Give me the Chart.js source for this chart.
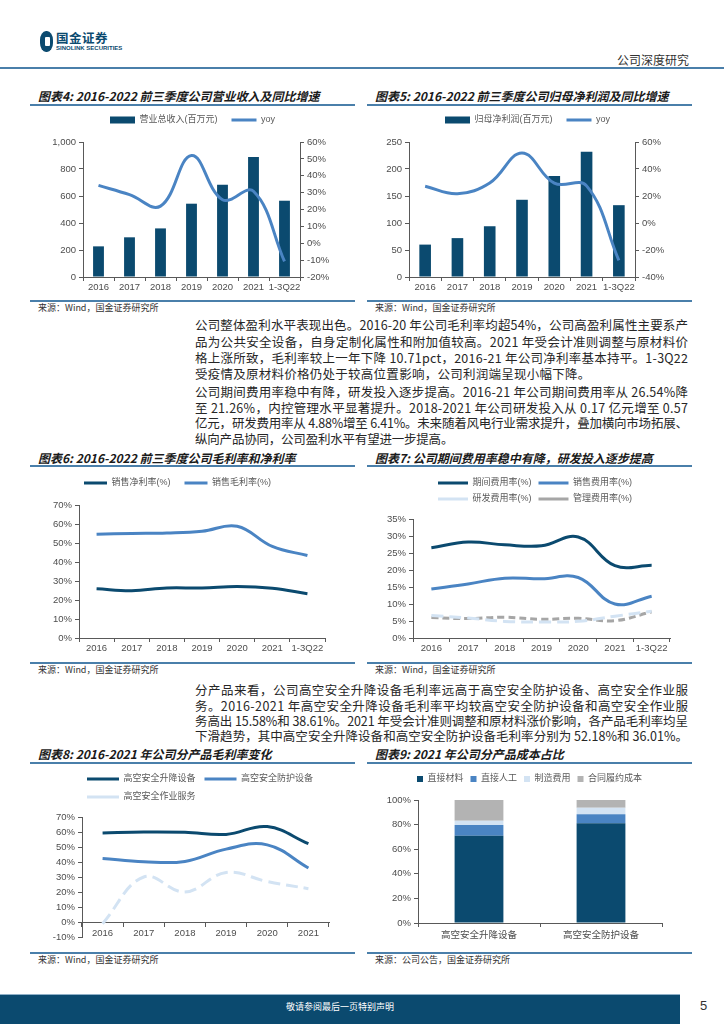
<!DOCTYPE html>
<html><head><meta charset="utf-8">
<script src="https://cdn.jsdelivr.net/npm/chart.js@4.4.1/dist/chart.umd.min.js"></script>
<style>
html,body{margin:0;padding:0;background:#fff;}
body{width:724px;height:1024px;position:relative;overflow:hidden;font-family:"Noto Sans CJK SC",sans-serif;}
.abs{position:absolute;white-space:nowrap;}
canvas{position:absolute;}
.title{position:absolute;font-style:italic;font-weight:bold;font-size:12px;color:#1a1a1a;white-space:nowrap;line-height:14px;}
.rule{position:absolute;height:1.5px;background:#4a7faa;}
.src{position:absolute;font-size:9px;color:#333;white-space:nowrap;line-height:11px;}
.ln{position:absolute;left:195px;font-size:12.5px;color:#262626;white-space:nowrap;line-height:16px;}
</style></head>
<body>
<!-- header -->
<div class="abs" style="left:40px;top:31px;width:13px;height:21px;background:#0b4a6f;border-radius:6px/9px;"></div>
<div class="abs" style="left:45px;top:37px;width:5px;height:9px;background:#fff;border-radius:1px;"></div>
<div class="abs" style="left:56px;top:30px;font-size:12.5px;font-weight:bold;color:#0b4a6f;line-height:15px;letter-spacing:0.5px;">国金证券</div>
<div class="abs" style="left:56px;top:45px;font-size:6px;font-weight:bold;color:#0b4a6f;line-height:7px;font-family:'Liberation Sans',sans-serif;">SINOLINK SECURITIES</div>
<div class="abs" style="left:617px;top:53px;font-size:12px;color:#333;line-height:14px;">公司深度研究</div>
<div class="abs" style="left:0;top:67px;width:724px;height:2px;background:#4a7faa;"></div>

<!-- chart titles -->
<div class="title" style="left:38px;top:89px;">图表4: 2016-2022 前三季度公司营业收入及同比增速</div>
<div class="rule" style="left:30px;top:104px;width:325px;"></div>
<div class="title" style="left:375px;top:89px;">图表5: 2016-2022 前三季度公司归母净利润及同比增速</div>
<div class="rule" style="left:367px;top:104px;width:325px;"></div>
<div class="rule" style="left:30px;top:300px;width:325px;"></div>
<div class="src" style="left:38px;top:302px;">来源：Wind，国金证券研究所</div>
<div class="rule" style="left:367px;top:300px;width:325px;"></div>
<div class="src" style="left:375px;top:302px;">来源：Wind，国金证券研究所</div>

<div class="para">
<div class="ln" style="top:317px;">公司整体盈利水平表现出色。2016-20 年公司毛利率均超54%，公司高盈利属性主要系产</div>
<div class="ln" style="top:333.5px;">品为公共安全设备，自身定制化属性和附加值较高。2021 年受会计准则调整与原材料价</div>
<div class="ln" style="top:349.5px;">格上涨所致，毛利率较上一年下降 10.71pct，2016-21 年公司净利率基本持平。1-3Q22</div>
<div class="ln" data-last="1" style="top:365.5px;">受疫情及原材料价格仍处于较高位置影响，公司利润端呈现小幅下降。</div>
</div>
<div class="para">
<div class="ln" style="top:383.5px;">公司期间费用率稳中有降，研发投入逐步提高。2016-21 年公司期间费用率从 26.54%降</div>
<div class="ln" style="top:399.5px;">至 21.26%，内控管理水平显著提升。2018-2021 年公司研发投入从 0.17 亿元增至 0.57</div>
<div class="ln" style="top:415px;">亿元，研发费用率从 4.88%增至 6.41%。未来随着风电行业需求提升，叠加横向市场拓展、</div>
<div class="ln" data-last="1" style="top:430.5px;">纵向产品协同，公司盈利水平有望进一步提高。</div>
</div>

<div class="title" style="left:38px;top:451px;">图表6: 2016-2022 前三季度公司毛利率和净利率</div>
<div class="rule" style="left:30px;top:465px;width:325px;"></div>
<div class="title" style="left:375px;top:451px;">图表7: 公司期间费用率稳中有降，研发投入逐步提高</div>
<div class="rule" style="left:367px;top:465px;width:325px;"></div>
<div class="rule" style="left:30px;top:662px;width:325px;"></div>
<div class="src" style="left:38px;top:664px;">来源：Wind，国金证券研究所</div>
<div class="rule" style="left:367px;top:662px;width:325px;"></div>
<div class="src" style="left:375px;top:664px;">来源：Wind，国金证券研究所</div>

<div class="para">
<div class="ln" style="top:682px;">分产品来看，公司高空安全升降设备毛利率远高于高空安全防护设备、高空安全作业服</div>
<div class="ln" style="top:697.5px;">务。2016-2021 年高空安全升降设备毛利率平均较高空安全防护设备和高空安全作业服</div>
<div class="ln" style="top:713px;">务高出 15.58%和 38.61%。2021 年受会计准则调整和原材料涨价影响，各产品毛利率均呈</div>
<div class="ln" style="top:728px;">下滑趋势，其中高空安全升降设备和高空安全防护设备毛利率分别为 52.18%和 36.01%。</div>
</div>

<div class="title" style="left:38px;top:747px;">图表8: 2016-2021 年公司分产品毛利率变化</div>
<div class="rule" style="left:30px;top:762px;width:325px;"></div>
<div class="title" style="left:375px;top:747px;">图表9: 2021 年公司分产品成本占比</div>
<div class="rule" style="left:367px;top:762px;width:325px;"></div>
<div class="rule" style="left:30px;top:952px;width:325px;"></div>
<div class="src" style="left:38px;top:954px;">来源：Wind，国金证券研究所</div>
<div class="rule" style="left:367px;top:952px;width:325px;"></div>
<div class="src" style="left:375px;top:954px;">来源：公司公告，国金证券研究所</div>

<canvas id="c4"></canvas><canvas id="c5"></canvas>
<canvas id="c6"></canvas><canvas id="c7"></canvas>
<canvas id="c8"></canvas><canvas id="c9"></canvas>

<!-- footer -->
<div class="abs" style="left:0;top:994px;width:680px;height:29px;background:#0b4a6f;border-top:1px solid #8fb0c8;"></div>
<div class="abs" style="left:0;top:1001px;width:680px;text-align:center;font-size:9px;color:#fff;line-height:12px;">敬请参阅最后一页特别声明</div>
<div class="abs" style="left:700px;top:998px;font-size:13px;color:#333;line-height:16px;font-family:'Liberation Sans',sans-serif;">5</div>

<script>
// ---------- data ----------
const years7 = ['2016','2017','2018','2019','2020','2021','1-3Q22'];
const years6 = ['2016','2017','2018','2019','2020','2021'];
const revenue = [227, 294, 360, 543, 684, 889, 565];
const revenueYoy = [34.3, 28.8, 22.0, 52.0, 25.8, 30.8, -10.8];
const netProfit = [60, 72, 94, 143, 187, 232, 133];
const netProfitYoy = [27.2, 21.7, 29.6, 51.8, 29.5, 27.5, -27.7];
const netMargin = [25.9, 24.9, 26.3, 26.3, 27.1, 26.2, 23.3];
const grossMargin = [54.6, 55.0, 55.3, 56.2, 58.8, 48.2, 43.4];
const periodExpRate = [26.54, 28.2, 27.4, 27.1, 29.7, 21.26, 21.4];
const salesExpRate = [14.4, 15.9, 17.6, 17.4, 17.8, 10.0, 12.3];
const rdExpRate = [6.6, 5.9, 4.88, 4.7, 4.9, 6.41, 7.9];
const adminExpRate = [6.0, 5.7, 6.1, 5.5, 5.8, 5.1, 7.7];
const liftMargin = [59.3, 60.0, 59.8, 58.4, 63.6, 52.18];
const protectMargin = [42.4, 40.2, 40.4, 48.6, 51.4, 36.01];
const serviceMargin = [-1.1, 30.0, 20.0, 33.0, 27.0, 22.2];
const costCats = ['高空安全升降设备','高空安全防护设备'];
const costMaterial = [71.0, 81.1];
const costLabor = [8.7, 7.3];
const costMfg = [3.5, 5.4];
const costContract = [16.8, 6.2];

// ---------- text justification ----------
function justify(){
  document.querySelectorAll('.para').forEach(p=>{
    let last=0;
    p.querySelectorAll('.ln').forEach(el=>{
      el.style.letterSpacing='0px';
      const n=[...el.textContent].length;
      const w=el.getBoundingClientRect().width;
      if(el.dataset.last){ el.style.letterSpacing=last+'px'; }
      else { const ls=(493-w)/(n-1); el.style.letterSpacing=ls+'px'; last=ls; }
    });
  });
}
justify();
if(document.fonts && document.fonts.ready) document.fonts.ready.then(justify);

// ---------- charts ----------
Chart.defaults.font.family = '"Liberation Sans", Arial, "Noto Sans CJK SC", sans-serif';
Chart.defaults.font.size = 9.5;
Chart.defaults.color = '#4d4d4d';
Chart.defaults.animation = false;
Chart.defaults.responsive = false;
Chart.defaults.devicePixelRatio = 1;
Chart.defaults.plugins.tooltip.enabled = false;

const NAVY='#0b4a6f', BLUE='#4a84c3', LIGHT='#d3e3f3', GRAY='#b3b3b3', DGRAY='#a6a6a6', AXIS='#595959';

function place(id,b){ const c=document.getElementById(id); c.width=b.w; c.height=b.h; c.style.left=b.x+'px'; c.style.top=b.y+'px'; return c; }

function legendPlugin(b,o){
  return { id:'legpos',
    beforeInit(chart){ const lg=chart.legend; const of=lg.fit; lg.fit=function(){ of.call(this); this.height=o.h; }; },
    beforeDraw(chart){
      const lg=chart.legend;
      lg.top=o.rowY-b.y-o.pad-o.itemH/2; lg.bottom=lg.top+o.h;
      if(o.left!=null){ lg.left=o.left-b.x-o.pad; lg.right=o.right-b.x; }
    }
  };
}
function axisGrid(offset){ return {display:true, drawOnChartArea:false, drawTicks:true, tickLength:4, color:AXIS, offset:offset}; }
const border={display:true, color:AXIS, width:1};
const pct=v=>v+'%';
function xTicks(pad, extra){ return Object.assign({padding:pad, maxRotation:0, minRotation:0, autoSkip:false}, extra||{}); }

// Chart 4
const b4={x:30,y:108,w:325,h:190};
new Chart(place('c4',b4),{
  type:'bar',
  data:{labels:years7, datasets:[
    {type:'bar', label:'营业总收入(百万元)', data:revenue, backgroundColor:NAVY, yAxisID:'y', order:1, barPercentage:0.35, categoryPercentage:1, pointStyle:'rect', borderWidth:0},
    {type:'line', label:'yoy', data:revenueYoy, borderColor:BLUE, backgroundColor:BLUE, borderWidth:3, pointRadius:0, tension:0.4, yAxisID:'y2', order:0, pointStyle:'line'}
  ]},
  options:{
    layout:{padding:0},
    plugins:{legend:{labels:{usePointStyle:true, pointStyleWidth:25, boxHeight:7, padding:14, font:{size:9}, color:'#595959', sort:(a,c)=>a.datasetIndex-c.datasetIndex}}},
    scales:{
      x:{grid:axisGrid(true), border, ticks:xTicks(1), afterFit:s=>{s.height=b4.y+b4.h-277;}},
      y:{position:'left', min:0, max:1000, ticks:{stepSize:100, padding:3, callback:v=>v.toLocaleString('en-US')}, grid:axisGrid(false), border, afterFit:s=>{s.width=83-b4.x;}},
      y2:{position:'right', min:-20, max:60, ticks:{stepSize:10, padding:3, callback:pct}, grid:axisGrid(false), border, afterFit:s=>{s.width=b4.x+b4.w-300;}}
    }
  },
  plugins:[legendPlugin(b4,{h:34,rowY:120,pad:14,itemH:9})]
});

// Chart 5
const b5={x:365,y:108,w:325,h:190};
new Chart(place('c5',b5),{
  type:'bar',
  data:{labels:years7, datasets:[
    {type:'bar', label:'归母净利润(百万元)', data:netProfit, backgroundColor:NAVY, yAxisID:'y', order:1, barPercentage:0.36, categoryPercentage:1, pointStyle:'rect', borderWidth:0},
    {type:'line', label:'yoy', data:netProfitYoy, borderColor:BLUE, backgroundColor:BLUE, borderWidth:3, pointRadius:0, tension:0.4, yAxisID:'y2', order:0, pointStyle:'line'}
  ]},
  options:{
    layout:{padding:0},
    plugins:{legend:{labels:{usePointStyle:true, pointStyleWidth:25, boxHeight:7, padding:14, font:{size:9}, color:'#595959', sort:(a,c)=>a.datasetIndex-c.datasetIndex}}},
    scales:{
      x:{grid:axisGrid(true), border, ticks:xTicks(1), afterFit:s=>{s.height=b5.y+b5.h-277;}},
      y:{position:'left', min:0, max:250, ticks:{stepSize:50, padding:3}, grid:axisGrid(false), border, afterFit:s=>{s.width=409-b5.x;}},
      y2:{position:'right', min:-40, max:60, ticks:{stepSize:10, padding:3, callback:pct}, grid:axisGrid(false), border, afterFit:s=>{s.width=b5.x+b5.w-635;}}
    }
  },
  plugins:[legendPlugin(b5,{h:34,rowY:120,pad:14,itemH:9})]
});

// Chart 6
const b6={x:30,y:470,w:325,h:190};
new Chart(place('c6',b6),{
  type:'line',
  data:{labels:years7, datasets:[
    {label:'销售净利率(%)', data:netMargin, borderColor:NAVY, backgroundColor:NAVY, borderWidth:3, pointRadius:0, tension:0.4, pointStyle:'line'},
    {label:'销售毛利率(%)', data:grossMargin, borderColor:BLUE, backgroundColor:BLUE, borderWidth:3, pointRadius:0, tension:0.4, pointStyle:'line'}
  ]},
  options:{
    layout:{padding:{right:b6.x+b6.w-325}},
    plugins:{legend:{labels:{usePointStyle:true, pointStyleWidth:23, padding:14, font:{size:9}, color:'#595959'}}},
    scales:{
      x:{offset:true, grid:axisGrid(true), border, ticks:xTicks(1), afterFit:s=>{s.height=b6.y+b6.h-638;}},
      y:{min:0, max:70, ticks:{stepSize:10, padding:3, callback:pct}, grid:axisGrid(false), border, afterFit:s=>{s.width=79-b6.x;}}
    }
  },
  plugins:[legendPlugin(b6,{h:35,rowY:483,pad:14,itemH:9})]
});

// Chart 7
const b7={x:365,y:470,w:325,h:190};
new Chart(place('c7',b7),{
  type:'line',
  data:{labels:years7, datasets:[
    {label:'期间费用率(%)', data:periodExpRate, borderColor:NAVY, backgroundColor:NAVY, borderWidth:3, pointRadius:0, tension:0.4, pointStyle:'line'},
    {label:'销售费用率(%)', data:salesExpRate, borderColor:BLUE, backgroundColor:BLUE, borderWidth:3, pointRadius:0, tension:0.4, pointStyle:'line'},
    {label:'研发费用率(%)', data:rdExpRate, borderColor:LIGHT, backgroundColor:LIGHT, borderWidth:3, borderDash:[12,6], pointRadius:0, tension:0.4, pointStyle:'line'},
    {label:'管理费用率(%)', data:adminExpRate, borderColor:DGRAY, backgroundColor:DGRAY, borderWidth:3, borderDash:[7,4], pointRadius:0, tension:0.4, pointStyle:'line'}
  ]},
  options:{
    layout:{padding:{right:b7.x+b7.w-670}},
    plugins:{legend:{align:'start', labels:{usePointStyle:true, pointStyleWidth:30, padding:7, font:{size:9}, color:'#595959'}}},
    scales:{
      x:{offset:true, grid:axisGrid(true), border, ticks:xTicks(1), afterFit:s=>{s.height=b7.y+b7.h-638;}},
      y:{min:0, max:35, ticks:{stepSize:5, padding:3, callback:pct}, grid:axisGrid(false), border, afterFit:s=>{s.width=413-b7.x;}}
    }
  },
  plugins:[legendPlugin(b7,{h:49,rowY:483,pad:7,itemH:9,left:438,right:665})]
});

// Chart 8
const b8={x:30,y:768,w:325,h:180};
new Chart(place('c8',b8),{
  type:'line',
  data:{labels:years6, datasets:[
    {label:'高空安全升降设备', data:liftMargin, borderColor:NAVY, backgroundColor:NAVY, borderWidth:3, pointRadius:0, tension:0.4, pointStyle:'line'},
    {label:'高空安全防护设备', data:protectMargin, borderColor:BLUE, backgroundColor:BLUE, borderWidth:3, pointRadius:0, tension:0.4, pointStyle:'line'},
    {label:'高空安全作业服务', data:serviceMargin, borderColor:LIGHT, backgroundColor:LIGHT, borderWidth:3, borderDash:[12,6], pointRadius:0, tension:0.4, pointStyle:'line'}
  ]},
  options:{
    layout:{padding:{right:b8.x+b8.w-329, bottom:b8.y+b8.h-937}},
    plugins:{legend:{align:'start', labels:{usePointStyle:true, pointStyleWidth:32, padding:9, font:{size:9}, color:'#595959'}}},
    scales:{
      x:{position:{y:0}, offset:true, grid:axisGrid(true), border, ticks:xTicks(2)},
      y:{min:-10, max:70, ticks:{stepSize:10, padding:3, callback:pct}, grid:axisGrid(false), border, afterFit:s=>{s.width=82-b8.x;}}
    }
  },
  plugins:[legendPlugin(b8,{h:49,rowY:779,pad:9,itemH:9,left:87,right:351})]
});

// Chart 9
const b9={x:365,y:768,w:325,h:180};
new Chart(place('c9',b9),{
  type:'bar',
  data:{labels:costCats, datasets:[
    {label:'直接材料', data:costMaterial, backgroundColor:NAVY, borderWidth:0, barPercentage:0.4, categoryPercentage:1},
    {label:'直接人工', data:costLabor, backgroundColor:BLUE, borderWidth:0, barPercentage:0.4, categoryPercentage:1},
    {label:'制造费用', data:costMfg, backgroundColor:LIGHT, borderWidth:0, barPercentage:0.4, categoryPercentage:1},
    {label:'合同履约成本', data:costContract, backgroundColor:GRAY, borderWidth:0, barPercentage:0.4, categoryPercentage:1}
  ]},
  options:{
    layout:{padding:{right:b9.x+b9.w-662}},
    plugins:{legend:{align:'start', labels:{boxWidth:6, boxHeight:6, padding:7, font:{size:9}, color:'#595959'}}},
    scales:{
      x:{stacked:true, grid:axisGrid(true), border, ticks:xTicks(3,{font:{size:9.5}}), afterFit:s=>{s.height=b9.y+b9.h-923;}},
      y:{stacked:true, min:0, max:100, ticks:{stepSize:10, padding:3, callback:pct}, grid:axisGrid(false), border, afterFit:s=>{s.width=418-b9.x;}}
    }
  },
  plugins:[legendPlugin(b9,{h:32,rowY:779,pad:7,itemH:9,left:417,right:705})]
});
</script>
</body></html>
